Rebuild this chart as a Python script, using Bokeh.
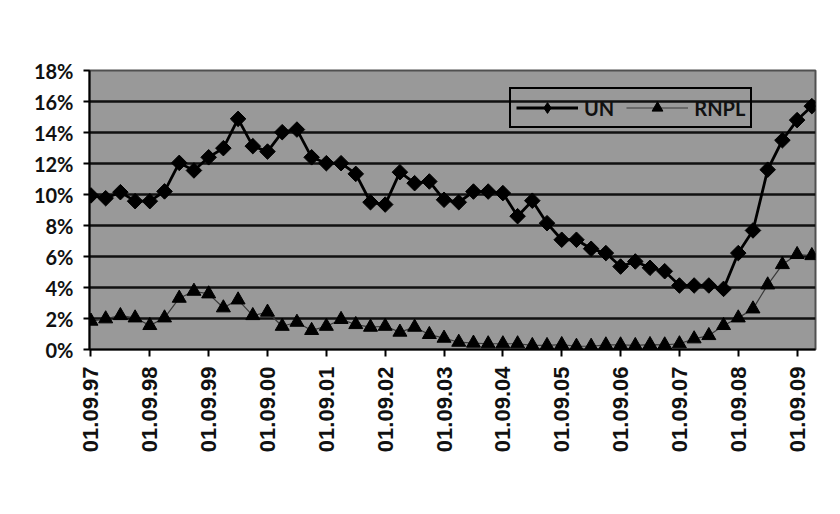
import numpy as np
from bokeh.plotting import figure
from bokeh.models import FixedTicker, Range1d, Legend, LegendItem
from bokeh.embed import file_html
from bokeh.resources import INLINE

# quarterly observations, Sep 1997 .. Dec 2009
quarters = list(range(50))
un = [9.94, 9.76, 10.15, 9.57, 9.57, 10.2, 12.04, 11.55, 12.4, 12.99,
      14.88, 13.12, 12.77, 14.02, 14.19, 12.4, 12.02, 12.02, 11.33, 9.5,
      9.35, 11.44, 10.73, 10.84, 9.66, 9.5, 10.19, 10.19, 10.09, 8.6,
      9.6, 8.15, 7.08, 7.08, 6.5, 6.22, 5.35, 5.68, 5.27, 5.05,
      4.13, 4.13, 4.13, 3.91, 6.22, 7.68, 11.6, 13.5, 14.8, 15.7]
rnpl = [1.83, 1.98, 2.19, 2.04, 1.55, 2.04, 3.31, 3.76, 3.59, 2.69,
        3.2, 2.19, 2.41, 1.5, 1.76, 1.23, 1.5, 1.94, 1.61, 1.44,
        1.5, 1.12, 1.44, 0.97, 0.73, 0.47, 0.41, 0.37, 0.37, 0.37,
        0.26, 0.26, 0.32, 0.21, 0.21, 0.3, 0.3, 0.26, 0.32, 0.3,
        0.37, 0.69, 0.9, 1.55, 2.04, 2.62, 4.17, 5.48, 6.13, 6.06]
year_ticks = [0, 4, 8, 12, 16, 20, 24, 28, 32, 36, 40, 44, 48]
year_labels = ["01.09.97", "01.09.98", "01.09.99", "01.09.00", "01.09.01",
               "01.09.02", "01.09.03", "01.09.04", "01.09.05", "01.09.06",
               "01.09.07", "01.09.08", "01.09.09"]
y_ticks = [0, 2, 4, 6, 8, 10, 12, 14, 16, 18]
y_labels = ["0%", "2%", "4%", "6%", "8%", "10%", "12%", "14%", "16%", "18%"]

p = figure(width=824, height=498, output_backend="svg", toolbar_location=None,
           x_range=Range1d(-0.1, 49.25), y_range=Range1d(0, 18),
           min_border_left=89, min_border_top=70, min_border_right=9,
           min_border_bottom=149)
p.background_fill_color = "#999999"
p.border_fill_color = "white"
p.outline_line_color = "#505050"
p.outline_line_width = 2

# grid
p.xgrid.visible = False
p.ygrid.grid_line_color = "#111111"
p.ygrid.grid_line_width = 2.5
p.ygrid.ticker = FixedTicker(ticks=y_ticks)

# y axis
p.yaxis.ticker = FixedTicker(ticks=y_ticks)
p.yaxis.major_label_overrides = {t: l for t, l in zip(y_ticks, y_labels)}
p.yaxis.axis_line_color = "black"
p.yaxis.axis_line_width = 2
p.yaxis.major_tick_line_color = "black"
p.yaxis.major_tick_line_width = 2
p.yaxis.major_tick_out = 6
p.yaxis.major_tick_in = 0
p.yaxis.minor_tick_line_color = None
p.yaxis.major_label_text_font = "Lato"
p.yaxis.major_label_text_font_style = "bold"
p.yaxis.major_label_text_font_size = "20px"
p.yaxis.major_label_text_color = "#111111"
p.yaxis.major_label_standoff = 10

# x axis
p.xaxis.ticker = FixedTicker(ticks=year_ticks)
p.xaxis.major_label_overrides = {t: l for t, l in zip(year_ticks, year_labels)}
p.xaxis.major_label_orientation = np.pi / 2
p.xaxis.axis_line_color = "black"
p.xaxis.axis_line_width = 2
p.xaxis.major_tick_line_color = "black"
p.xaxis.major_tick_line_width = 2
p.xaxis.major_tick_out = 7
p.xaxis.major_tick_in = 0
p.xaxis.minor_tick_line_color = None
p.xaxis.major_label_text_font = "Liberation Sans"
p.xaxis.major_label_text_font_style = "bold"
p.xaxis.major_label_text_font_size = "22px"
p.xaxis.major_label_text_color = "#111111"
p.xaxis.major_label_standoff = 10

# series
un_line = p.line(quarters, un, line_color="black", line_width=2.8)
# narrow diamond (used as legend key) hidden under the rotated squares
un_key = p.scatter(quarters, un, marker="diamond", size=11,
                   fill_color="black", line_color="black")
p.scatter(quarters, un, marker="square", angle=np.pi / 4, size=11,
          fill_color="black", line_color="black")
rn_line = p.line(quarters, rnpl, line_color="#3a3a3a", line_width=1.2)
rn_pts = p.scatter(quarters, rnpl, marker="triangle", size=14,
                   fill_color="black", line_color="black")

legend = Legend(items=[LegendItem(label="UN", renderers=[un_line, un_key]),
                       LegendItem(label="RNPL", renderers=[rn_line, rn_pts])])
legend.orientation = "horizontal"
legend.location = (420, 221)
legend.background_fill_alpha = 0
legend.border_line_color = "black"
legend.border_line_width = 2
legend.border_line_alpha = 1
legend.glyph_width = 62
legend.glyph_height = 27
legend.label_height = 27
legend.padding = 5
legend.spacing = 12
legend.label_standoff = 6
legend.margin = 0
legend.label_text_font = "Lato"
legend.label_text_font_style = "bold"
legend.label_text_font_size = "20px"
legend.label_text_color = "#111111"
p.add_layout(legend, "center")

open("out.html", "w").write(file_html(p, INLINE))
